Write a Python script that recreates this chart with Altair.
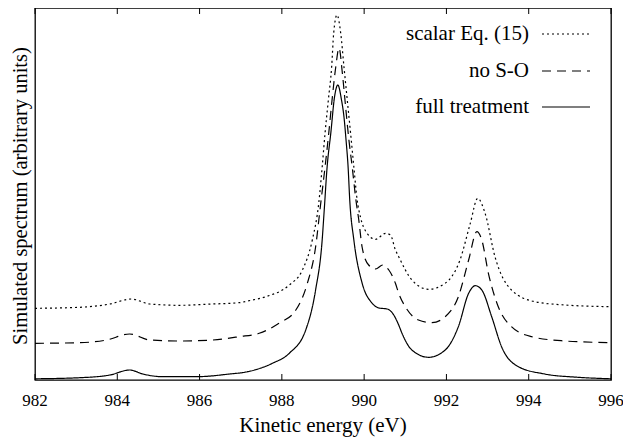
import altair as alt
import pandas as pd

# ---- data (y in arbitrary units) ----
series_names = ["scalar Eq. (15)", "no S-O", "full treatment"]
tick_values = [982, 984, 986, 988, 990, 992, 994, 996]
tick_labels = ["982", "984", "986", "988", "990", "992", "994", "996"]
x_title = "Kinetic energy (eV)"
y_title = "Simulated spectrum (arbitrary units)"

energy_full = [982.00, 983.09, 983.82, 984.30, 984.62, 985.11, 985.92, 986.73, 987.17,
               987.77, 988.18, 988.58, 988.82, 988.98, 989.03, 989.10, 989.19, 989.28,
               989.36, 989.45, 989.51, 989.56, 989.61, 989.65, 989.75, 989.95, 990.19,
               990.36, 990.56, 990.72, 990.84, 990.92, 991.16, 991.57, 991.97, 992.29,
               992.54, 992.70, 992.86, 993.10, 993.34, 993.75, 994.39, 995.20, 995.93,
               996.00]
spec_full = [1.2, 2.3, 5.0, 10.0, 6.0, 3.3, 3.3, 6.0, 8.3,
             16.7, 26.7, 50.0, 90.0, 140.0, 170.0, 213.0, 247.0, 283.0,
             295.0, 280.0, 263.0, 240.0, 213.0, 180.0, 140.0, 97.0, 77.0,
             72.0, 71.0, 65.0, 55.0, 46.7, 30.0, 22.7, 30.0, 53.3,
             86.7, 94.3, 90.0, 63.3, 33.3, 13.3, 6.0, 2.7, 1.3,
             1.2]

energy_noso = [982.00, 983.09, 983.74, 984.30, 984.79, 985.51, 986.32, 986.96, 987.45,
               987.93, 988.34, 988.62, 988.82, 988.94, 989.05, 989.14, 989.22, 989.31,
               989.39, 989.47, 989.55, 989.63, 989.71, 989.80, 989.87, 989.95, 990.11,
               990.28, 990.45, 990.60, 990.76, 990.84, 991.00, 991.32, 991.65, 991.97,
               992.29, 992.54, 992.74, 992.86, 993.02, 993.26, 993.58, 994.07, 994.79,
               995.93, 996.00]
spec_noso = [36.7, 37.3, 40.0, 46.0, 40.0, 39.0, 40.0, 43.3, 46.7,
             56.7, 70.0, 96.7, 133.0, 175.0, 213.0, 247.0, 280.0, 313.0,
             332.0, 307.0, 273.0, 240.0, 213.0, 180.0, 160.0, 133.0, 115.0,
             111.0, 115.0, 110.0, 96.7, 86.7, 73.3, 60.0, 57.3, 63.3,
             83.3, 120.0, 148.3, 140.0, 106.7, 73.3, 53.3, 43.3, 39.3,
             37.3, 37.2]

energy_scalar = [982.00, 983.09, 983.82, 984.34, 984.79, 985.51, 986.32, 986.96, 987.17,
                 987.61, 988.18, 988.50, 988.74, 988.90, 988.98, 989.05, 989.13, 989.21,
                 989.26, 989.34, 989.43, 989.51, 989.59, 989.67, 989.75, 989.83, 989.91,
                 990.07, 990.28, 990.52, 990.64, 990.76, 990.84, 991.16, 991.57, 991.97,
                 992.33, 992.58, 992.76, 992.94, 993.18, 993.58, 994.15, 994.88, 995.93,
                 996.00]
spec_scalar = [71.7, 72.7, 76.0, 81.0, 76.0, 74.7, 76.0, 77.3, 79.0,
               83.3, 95.0, 110.0, 140.0, 178.0, 213.0, 247.0, 280.0, 313.0,
               347.0, 365.0, 347.0, 313.0, 280.0, 247.0, 213.0, 180.0, 163.0,
               146.7, 140.7, 146.7, 145.0, 130.0, 123.3, 100.0, 90.7, 96.7,
               120.0, 156.7, 181.7, 166.7, 123.3, 90.0, 78.3, 75.0, 73.3,
               73.2]

# ---- build long table ----
rows = []
for name, xs, ys in [(series_names[0], energy_scalar, spec_scalar),
                     (series_names[1], energy_noso, spec_noso),
                     (series_names[2], energy_full, spec_full)]:
    for xv, yv in zip(xs, ys):
        rows.append({"energy": xv, "value": yv, "series": name})
df = pd.DataFrame(rows)

W, H = 576, 372
FONT = "Liberation Serif"
dash_range = [[2, 3], [9, 6], [1, 0]]

x_scale = alt.Scale(domain=[982, 996], nice=False, zero=False)
y_scale = alt.Scale(domain=[0, 372], nice=False, zero=False)

lines = alt.Chart(df).mark_line(color="black", strokeWidth=1.2, interpolate="monotone", clip=True).encode(
    x=alt.X("energy:Q", scale=x_scale, axis=None),
    y=alt.Y("value:Q", scale=y_scale, axis=None),
    strokeDash=alt.StrokeDash("series:N", scale=alt.Scale(domain=series_names, range=dash_range),
                              legend=None),
    detail="series:N",
)

tick_df = pd.DataFrame({"energy": tick_values, "label": tick_labels})
bottom_ticks = alt.Chart(tick_df).mark_rule(color="black", strokeWidth=1).encode(
    x=alt.X("energy:Q", scale=x_scale, axis=None),
    y=alt.value(H), y2=alt.value(H - 6))
top_ticks = alt.Chart(tick_df).mark_rule(color="black", strokeWidth=1).encode(
    x=alt.X("energy:Q", scale=x_scale, axis=None),
    y=alt.value(0), y2=alt.value(6))
tick_text = alt.Chart(tick_df).mark_text(font=FONT, fontSize=17, color="black",
                                         align="center", baseline="alphabetic").encode(
    x=alt.X("energy:Q", scale=x_scale, axis=None),
    y=alt.value(H + 26), text="label:N")

xt = alt.Chart(pd.DataFrame({"t": [x_title]})).mark_text(
    font=FONT, fontSize=21, color="black", align="center", baseline="alphabetic").encode(
    x=alt.value(W / 2), y=alt.value(H + 52), text="t:N")
yt = alt.Chart(pd.DataFrame({"t": [y_title]})).mark_text(
    font=FONT, fontSize=20.5, color="black", align="center", baseline="alphabetic",
    angle=270).encode(
    x=alt.value(-8.5), y=alt.value(H / 2 + 2), text="t:N")

legend_layers = []
row_y = [26, 63, 99]
for i, name in enumerate(series_names):
    ldf = pd.DataFrame({"label": [name]})
    txt = alt.Chart(ldf).mark_text(align="right", baseline="middle", font=FONT, fontSize=21,
                                   color="black").encode(
        x=alt.value(494), y=alt.value(row_y[i]), text="label:N")
    sample = alt.Chart(ldf).mark_rule(color="black", strokeWidth=1.2,
                                      strokeDash=dash_range[i]).encode(
        x=alt.value(507), x2=alt.value(555), y=alt.value(row_y[i]))
    legend_layers += [txt, sample]

chart = alt.layer(lines, bottom_ticks, top_ticks, tick_text, xt, yt, *legend_layers).properties(
    width=W, height=H,
    autosize=alt.AutoSizeParams(type="none"),
    padding={"left": 27, "top": 0, "right": 12, "bottom": 58},
).configure(
    background="white",
    font=FONT,
    view=alt.ViewConfig(stroke="black", strokeWidth=1.3),
)

chart.save("out.html", embed_options={"renderer": "svg", "actions": False})
